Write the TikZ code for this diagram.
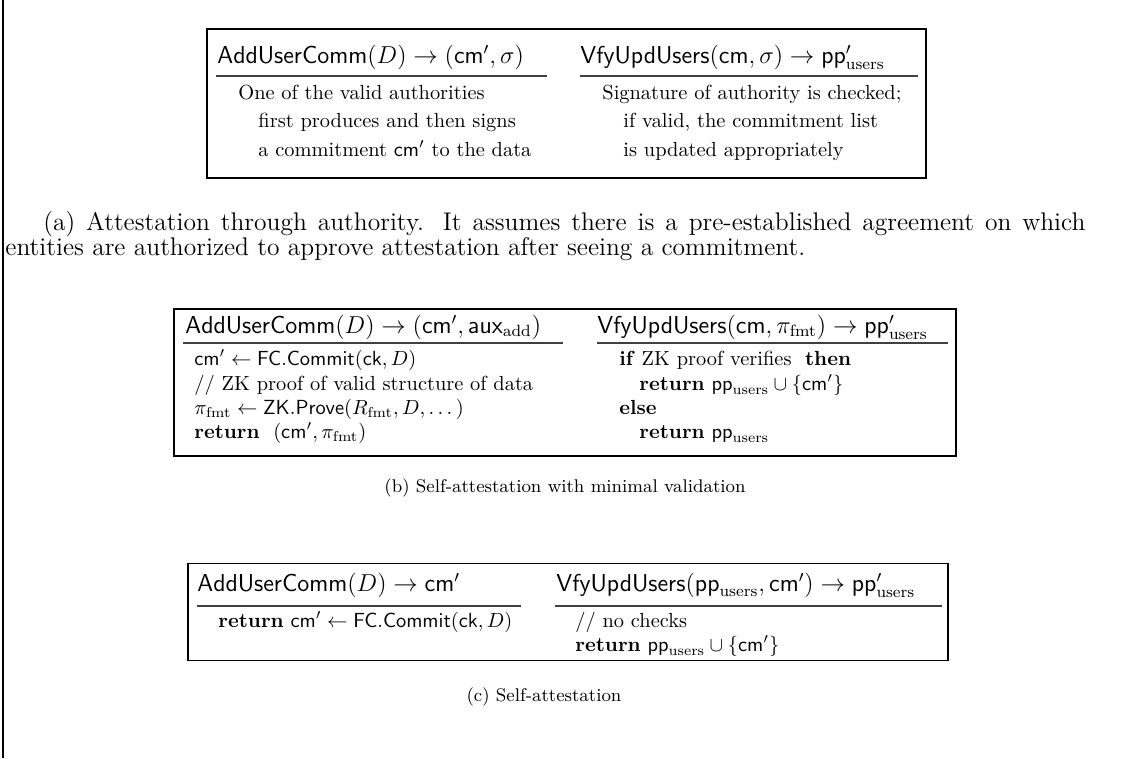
\documentclass[tikz,border=0pt]{standalone}
\usepackage{amsmath}

\tikzset{
  hdr/.style={anchor=base west, inner sep=0pt, font=\large},
  ln/.style={anchor=base west, inner sep=0pt},
  captxt/.style={inner sep=0pt, font=\small},
  bigcap/.style={inner sep=0pt, anchor=base west, font=\fontsize{12.5}{15}\selectfont},
  rul/.style={draw=black!75, line width=0.6pt},
  frm/.style={draw, line width=0.5pt},
}
\newcommand{\Cm}{\mathsf{cm}}
\newcommand{\PPu}{\mathsf{pp}_{\mathrm{users}}}
\newcommand{\Kw}[1]{\textbf{#1}}

\begin{document}
\begin{tikzpicture}[x=0.49pt,y=-0.49pt]
    \useasboundingbox (0,0) rectangle (1130,758);
    \draw[line width=0.6pt] (3,0) -- (3,758);

    % (a) authority
    \coordinate (aTL) at (207,29);
    \coordinate (aBR) at (926,178);
    \draw[frm] (aTL) rectangle (aBR);
    \node[hdr] (aH1) at (217,63) {$\mathsf{AddUserComm}(D) \rightarrow (\Cm', \sigma)$};
    \node[hdr] (aH2) at (580,63) {$\mathsf{VfyUpdUsers}(\Cm, \sigma) \rightarrow \mathsf{pp}'_{\mathrm{users}}$};
    \draw[rul] (216,76) -- (547,76);
    \draw[rul] (580,76) -- (918,76);
    \node[ln] (aL1) at (238,99) {One of the valid authorities};
    \node[ln] (aL2) at (258,127) {first produces and then signs};
    \node[ln] (aL3) at (258,156) {a commitment $\Cm'$ to the data};
    \node[ln] (aR1) at (602,99) {Signature of authority is checked;};
    \node[ln] (aR2) at (623,127) {if valid, the commitment list};
    \node[ln] (aR3) at (623,156) {is updated appropriately};

    \node[bigcap] (capA1) at (43,230)
        {\makebox[510.6pt][s]{(a) Attestation through authority. It assumes there is a pre-established agreement on which}};
    \node[bigcap] (capA2) at (5,255)
        {entities are authorized to approve attestation after seeing a commitment.};

    % (b) self-attestation, minimal validation
    \coordinate (bTL) at (174,309);
    \coordinate (bBR) at (956,456);
    \draw[frm] (bTL) rectangle (bBR);
    \node[hdr] (bH1) at (185,333) {$\mathsf{AddUserComm}(D) \rightarrow (\Cm', \mathsf{aux}_{\mathrm{add}})$};
    \node[hdr] (bH2) at (597,333) {$\mathsf{VfyUpdUsers}(\Cm, \pi_{\mathrm{fmt}}) \rightarrow \mathsf{pp}'_{\mathrm{users}}$};
    \draw[rul] (183,343) -- (563,343);
    \draw[rul] (597,343) -- (948,343);
    \node[ln] (bL1) at (194,365) {$\Cm' \gets \mathsf{FC.Commit}(\mathsf{ck}, D)$};
    \node[ln] (bL2) at (194,390) {// ZK proof of valid structure of data};
    \node[ln] (bL3) at (194,414) {$\pi_{\mathrm{fmt}} \gets \mathsf{ZK.Prove}(R_{\mathrm{fmt}}, D, \dots)$};
    \node[ln] (bL4) at (194,438) {\Kw{return}\ \ $(\Cm', \pi_{\mathrm{fmt}})$};
    \node[ln] (bR1) at (619,365) {\Kw{if} ZK proof verifies\ \ \Kw{then}};
    \node[ln] (bR2) at (639,390) {\Kw{return} $\PPu \cup \{\Cm'\}$};
    \node[ln] (bR3) at (619,414) {\Kw{else}};
    \node[ln] (bR4) at (639,438) {\Kw{return} $\PPu$};

    \node[captxt, anchor=base] (capB) at (565,492) {(b) Self-attestation with minimal validation};

    % (c) self-attestation
    \coordinate (cTL) at (188,563);
    \coordinate (cBR) at (948,660);
    \draw[frm] (cTL) rectangle (cBR);
    \node[hdr] (cH1) at (197,591) {$\mathsf{AddUserComm}(D) \rightarrow \Cm'$};
    \node[hdr] (cH2) at (556,591) {$\mathsf{VfyUpdUsers}(\PPu, \Cm') \rightarrow \mathsf{pp}'_{\mathrm{users}}$};
    \draw[rul] (197,606) -- (521,606);
    \draw[rul] (555,606) -- (942,606);
    \node[ln] (cL1) at (218,627) {\Kw{return} $\Cm' \gets \mathsf{FC.Commit}(\mathsf{ck}, D)$};
    \node[ln] (cR1) at (575,627) {// no checks};
    \node[ln] (cR2) at (575,651) {\Kw{return} $\PPu \cup \{\Cm'\}$};

    \node[captxt, anchor=base] (capC) at (544,701) {(c) Self-attestation};
\end{tikzpicture}
\end{document}
